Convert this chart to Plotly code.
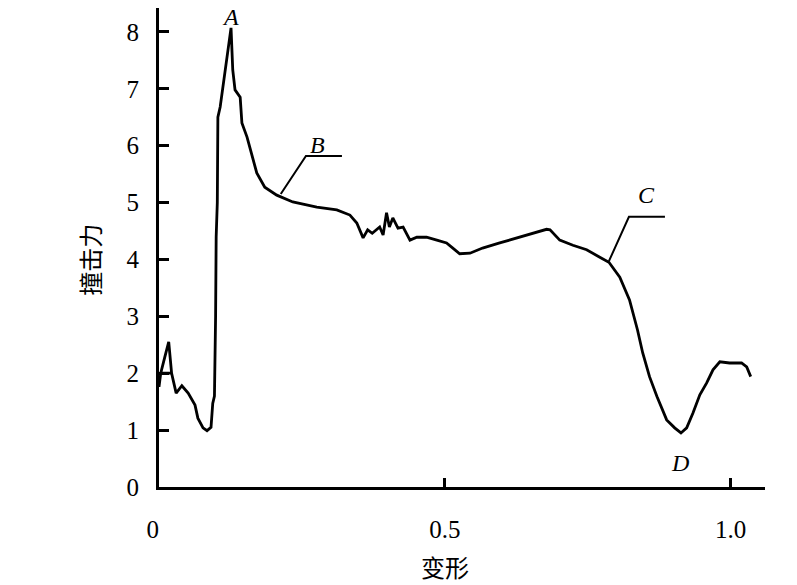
import plotly.graph_objects as go

# deformation (x) and impact force (y)
deformation = [0.000, 0.003, 0.010, 0.017, 0.022, 0.003, 0.022, 0.030, 0.040, 0.051, 0.063, 0.068,
               0.077, 0.084, 0.091, 0.094, 0.097, 0.099, 0.100, 0.102, 0.103, 0.107, 0.116, 0.121,
               0.126, 0.129, 0.133, 0.142, 0.145, 0.154, 0.163, 0.171, 0.185, 0.206, 0.234, 0.276,
               0.311, 0.334, 0.346, 0.357, 0.365, 0.373, 0.386, 0.392, 0.398, 0.403, 0.409, 0.418,
               0.427, 0.439, 0.451, 0.468, 0.486, 0.503, 0.514, 0.526, 0.544, 0.566, 0.596, 0.626,
               0.654, 0.678, 0.684, 0.701, 0.724, 0.748, 0.771, 0.787, 0.806, 0.823, 0.837, 0.846,
               0.858, 0.871, 0.888, 0.902, 0.913, 0.923, 0.934, 0.946, 0.958, 0.969, 0.981, 0.998,
               1.019, 1.028, 1.035]
impact_force = [1.76, 2.00, 2.28, 2.55, 2.00, 2.00, 2.00, 1.65, 1.78, 1.65, 1.44, 1.21,
                1.04, 0.99, 1.05, 1.47, 1.60, 3.00, 4.40, 5.00, 6.50, 6.68, 7.33, 7.68,
                8.07, 7.33, 6.98, 6.85, 6.40, 6.15, 5.80, 5.52, 5.27, 5.13, 5.01, 4.92,
                4.87, 4.78, 4.64, 4.38, 4.52, 4.46, 4.57, 4.43, 4.82, 4.57, 4.73, 4.55,
                4.57, 4.34, 4.39, 4.39, 4.34, 4.29, 4.20, 4.10, 4.11, 4.20, 4.29, 4.38,
                4.46, 4.53, 4.52, 4.34, 4.25, 4.17, 4.04, 3.95, 3.69, 3.29, 2.76, 2.36,
                1.94, 1.59, 1.18, 1.04, 0.95, 1.04, 1.30, 1.62, 1.83, 2.06, 2.20, 2.18,
                2.18, 2.11, 1.94]

y_ticks = [0, 1, 2, 3, 4, 5, 6, 7, 8]
x_ticks = [0, 0.5, 1.0]
x_tick_labels = ["0\u2002", "0.5", "1.0"]

point_labels = ["A", "B", "C", "D"]
label_x = [0.125, 0.278, 0.853, 0.911]
label_y = [8.27, 6.01, 5.14, 0.42]

leader_B_x = [0.213, 0.257, 0.320]
leader_B_y = [5.15, 5.82, 5.82]
leader_C_x = [0.787, 0.822, 0.885]
leader_C_y = [3.97, 4.75, 4.75]

SERIF = "Liberation Serif, Times New Roman, serif"
CJK = "Noto Sans CJK SC"

fig = go.Figure()
fig.add_trace(go.Scatter(x=deformation, y=impact_force, mode="lines",
                         line=dict(color="black", width=2.8), showlegend=False,
                         hoverinfo="skip"))
for lx, ly in [(leader_B_x, leader_B_y), (leader_C_x, leader_C_y)]:
    fig.add_trace(go.Scatter(x=lx, y=ly, mode="lines",
                             line=dict(color="black", width=2), showlegend=False,
                             hoverinfo="skip"))

for t, x, y in zip(point_labels, label_x, label_y):
    fig.add_annotation(x=x, y=y, text=f"<i>{t}</i>", showarrow=False,
                       xanchor="center", yanchor="middle",
                       font=dict(family=SERIF, size=24, color="black"))

fig.add_annotation(x=0.5, xref="x", y=-0.165, yref="paper", text="变形", showarrow=False,
                   xanchor="center", yanchor="middle",
                   font=dict(family=CJK, size=24, color="black"))
fig.add_annotation(x=-0.114, xref="paper", y=0.474, yref="paper", text="撞击力",
                   textangle=-90, showarrow=False, xanchor="center", yanchor="middle",
                   font=dict(family=CJK, size=24, color="black"))

fig.update_xaxes(range=[0, 1.06], showline=True, linecolor="black", linewidth=3,
                 tickvals=x_ticks, ticktext=x_tick_labels, ticks="inside", ticklen=9,
                 tickwidth=2.5, tickcolor="black", showgrid=False, zeroline=False,
                 ticklabelstandoff=18,
                 tickfont=dict(family=SERIF, size=25, color="black"))
fig.update_yaxes(range=[0, 8.42], showline=True, linecolor="black", linewidth=3,
                 tickvals=y_ticks, ticks="inside", ticklen=10, tickwidth=3,
                 tickcolor="black", showgrid=False, zeroline=False,
                 ticklabelstandoff=12,
                 tickfont=dict(family=SERIF, size=25, color="black"))

fig.update_layout(width=797, height=585, plot_bgcolor="white", paper_bgcolor="white",
                  margin=dict(l=151, r=40, t=0, b=106, autoexpand=False))

fig.write_html("out.html")
